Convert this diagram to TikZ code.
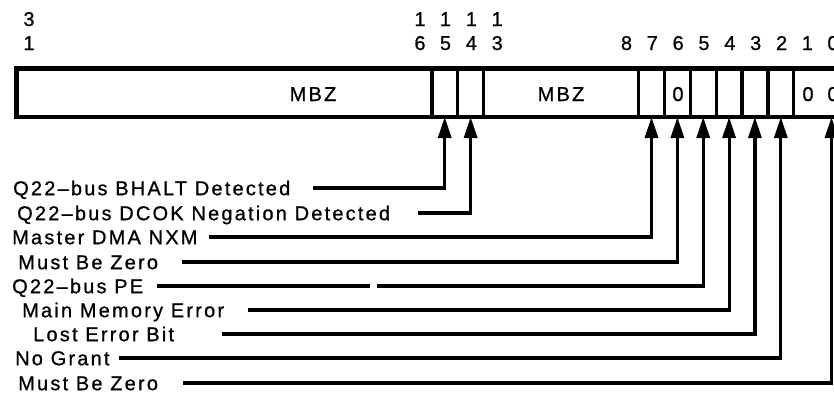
\documentclass[tikz,border=0pt]{standalone}
\usepackage{fontspec}
\setmainfont{Liberation Sans}
\newfontfamily\labfont[LetterSpace=11,FakeBold=0.8]{Liberation Sans}
\usetikzlibrary{arrows.meta}
\begin{document}
\begin{tikzpicture}[x=1pt,y=-1pt,
  txt/.style={inner sep=0pt, font=\labfont\fontsize{20}{24}\selectfont},
  lbl/.style={txt, anchor=base west},
  digit/.style={txt, anchor=base},
  regbox/.style={draw, line width=4.5pt, inner sep=0pt, anchor=north west, minimum width=831.4pt, minimum height=48.5pt},
  divider/.style={line width=3.4pt},
  conn/.style={line width=3.2pt, -{Triangle[length=21pt,width=13pt]}},
  plain/.style={line width=3.2pt}]
\useasboundingbox (0,0) rectangle (834,394);

% register
\node[regbox] (reg) at (14,66) {};
\foreach \x in {431.8,457.6,483.5,638.6,664.5,690.3,716.2,742.0,767.9,793.7}
  \draw[divider] (\x,66) -- (\x,114.5);

% field texts
\node[digit] (mbz1) at (313,101) {MBZ};
\node[digit] (mbz2) at (561,101) {MBZ};
\node[digit] (z6) at (678,101) {0};
\node[digit] (z1) at (808,101) {0};
\node[digit] (z0) at (833,101) {0};

% bit numbers
\node[digit] (n31a) at (29,26) {3};
\node[digit] (n31b) at (29,50) {1};
\node[digit] (n16a) at (420,26) {1};
\node[digit] (n16b) at (420,50) {6};
\node[digit] (n15a) at (445.5,26) {1};
\node[digit] (n15b) at (445.5,50) {5};
\node[digit] (n14a) at (471.4,26) {1};
\node[digit] (n14b) at (471.4,50) {4};
\node[digit] (n13a) at (497.2,26) {1};
\node[digit] (n13b) at (497.2,50) {3};
\node[digit] (n8) at (626.5,50) {8};
\node[digit] (n7) at (652.3,50) {7};
\node[digit] (n6) at (678.2,50) {6};
\node[digit] (n5) at (704,50) {5};
\node[digit] (n4) at (729.9,50) {4};
\node[digit] (n3) at (755.7,50) {3};
\node[digit] (n2) at (781.6,50) {2};
\node[digit] (n1) at (807.4,50) {1};
\node[digit] (n0) at (833,50) {0};

% arrow targets (bottom of register)
\coordinate (b15) at (444.7,117);
\coordinate (b14) at (470.6,117);
\coordinate (b7) at (651.5,117);
\coordinate (b6) at (677.4,117);
\coordinate (b5) at (703.2,117);
\coordinate (b4) at (729.1,117);
\coordinate (b3) at (754.9,117);
\coordinate (b2) at (780.8,117);
\coordinate (b0) at (831.5,117);

% labels
\node[lbl] (l15) at (13,195.2) {Q22–bus BHALT Detected};
\node[lbl] (l14) at (17,220.2) {Q22–bus DCOK Negation Detected};
\node[lbl] (l7) at (12,244.2) {Master DMA NXM};
\node[lbl] (l6) at (18,269.2) {Must Be Zero};
\node[lbl] (l5) at (12,293.2) {Q22–bus PE};
\node[lbl] (l4) at (22,317.2) {Main Memory Error};
\node[lbl] (l3) at (33,341.2) {Lost Error Bit};
\node[lbl] (l2) at (15,365.2) {No Grant};
\node[lbl] (l0) at (18,390.2) {Must Be Zero};

% connector start points
\coordinate (s15) at (313,188);
\coordinate (s14) at (418,213);
\coordinate (s7) at (209,237);
\coordinate (s6) at (182,262);
\coordinate (s5) at (157,286);
\coordinate (g5a) at (370,286);
\coordinate (g5b) at (377,286);
\coordinate (s4) at (248,310);
\coordinate (s3) at (222,334);
\coordinate (s2) at (119,358);
\coordinate (s0) at (183,383);

\draw[conn] (s15) -| (b15);
\draw[conn] (s14) -| (b14);
\draw[conn] (s7) -| (b7);
\draw[conn] (s6) -| (b6);
\draw[plain] (s5) -- (g5a);
\draw[conn] (g5b) -| (b5);
\draw[conn] (s4) -| (b4);
\draw[conn] (s3) -| (b3);
\draw[conn] (s2) -| (b2);
\draw[conn] (s0) -| (b0);
\end{tikzpicture}
\end{document}
